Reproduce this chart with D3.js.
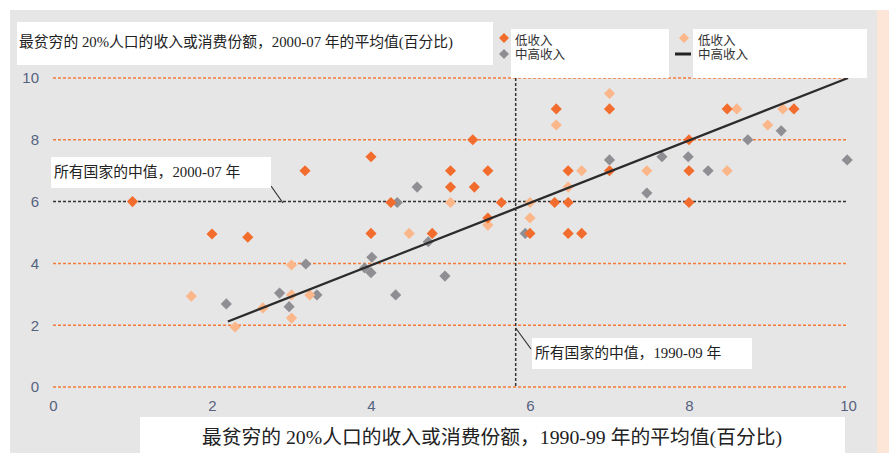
<!DOCTYPE html>
<html><head><meta charset="utf-8">
<script src="https://cdn.jsdelivr.net/npm/d3@7"></script>
<style>body{margin:0;background:#fff}svg{display:block}</style>
</head><body>
<svg id="c" width="889" height="453"></svg>
<script>
// Data: x = 1990-99 average share (%), y = 2000-07 average share (%)
const darkX = [1.0,2.0,2.45,3.17,4.0,4.0,4.25,4.77,5.0,5.0,5.28,5.3,5.47,5.47,5.64,6.0,6.33,6.31,6.48,6.48,6.48,6.65,7.0,7.0,8.0,8.0,8.0,8.48,9.32];
const darkY = [6.0,4.95,4.85,7.0,7.45,4.97,5.97,4.97,7.0,6.47,8.0,6.47,7.0,5.47,5.97,4.97,9.0,5.97,7.0,5.97,4.97,4.97,9.0,7.0,8.0,7.0,5.97,9.0,9.0];
const grayX = [2.18,2.85,2.97,3.18,3.32,3.92,4.01,4.0,4.31,4.33,4.58,4.72,4.93,5.94,7.0,7.47,7.66,7.99,8.24,8.74,9.16,9.99];
const grayY = [2.69,3.04,2.6,3.98,2.98,3.85,4.2,3.7,2.98,5.97,6.47,4.7,3.59,4.97,7.35,6.28,7.45,7.45,7.0,8.0,8.29,7.35];
const lightX = [1.74,2.29,2.64,3.0,3.0,3.0,3.23,4.48,5.0,5.47,6.0,6.0,6.33,6.48,6.65,7.0,7.47,8.48,8.6,8.99,9.18];
const lightY = [2.94,1.94,2.56,3.95,2.98,2.23,2.98,4.97,5.97,5.24,5.97,5.47,8.48,6.47,7.0,9.5,7.0,7.0,9.0,8.48,9.0];
const trendX = [2.2,10];
const trendY = [2.12,10];
const medianX = 5.82, medianY = 6;
const xTicks = [0,2,4,6,8,10];
const yTicks = [0,2,4,6,8,10];
const yTitle = "最贫穷的 20%人口的收入或消费份额，2000-07 年的平均值(百分比)";
const xTitle = "最贫穷的 20%人口的收入或消费份额，1990-99 年的平均值(百分比)";
const legendA = ["低收入","中高收入"];
const legendB = ["低收入","中高收入"];
const noteY = "所有国家的中值，2000-07 年";
const noteX = "所有国家的中值，1990-09 年";

const C = {dark:"#f26d2d", light:"#fbb68a", gray:"#8e8e93", grid:"#f47b3a"};
const serif = "'Liberation Serif','Noto Sans CJK SC',serif";
const legendFont = "'Liberation Sans','Noto Sans CJK SC',sans-serif";

const svg = d3.select("#c");
svg.append("rect").attr("x",10).attr("y",10).attr("width",867).attr("height",443).attr("fill","#e6e6e6");
svg.append("rect").attr("x",877).attr("y",10).attr("width",12).attr("height",443).attr("fill","#fde6d8");

const x = d3.scaleLinear().domain([0,10]).range([53,848]);
const y = d3.scaleLinear().domain([0,10]).range([387,78]);

// grid
svg.append("g").selectAll("line").data(yTicks.filter(d=>d!==medianY)).join("line")
  .attr("x1",x(0)).attr("x2",x(10)).attr("y1",d=>y(d)).attr("y2",d=>y(d))
  .attr("stroke",C.grid).attr("stroke-width",1.5).attr("stroke-dasharray","3,2");
svg.append("line").attr("x1",x(0)).attr("x2",x(10)).attr("y1",y(medianY)).attr("y2",y(medianY))
  .attr("stroke","#333").attr("stroke-width",1.5).attr("stroke-dasharray","3,2");
svg.append("line").attr("x1",x(medianX)).attr("x2",x(medianX)).attr("y1",y(10)).attr("y2",y(0)+1)
  .attr("stroke","#333").attr("stroke-width",1.5).attr("stroke-dasharray","3,2");

// axes
const yAxis = d3.axisLeft(y).tickValues(yTicks).tickSize(0).tickPadding(0);
const gy = svg.append("g").attr("transform","translate(39,0)").call(yAxis);
const xAxis = d3.axisBottom(x).tickValues(xTicks).tickSize(0).tickPadding(0);
const gx = svg.append("g").attr("transform","translate(0,400)").call(xAxis);
[gy,gx].forEach(g=>{g.select(".domain").remove();
  g.selectAll("text").attr("fill","#55627e").attr("font-size",15).attr("font-family","'Liberation Sans',Arial,sans-serif");});

// markers
const diamond = d3.symbol().type(d3.symbolSquare).size(62);
function drawSeries(xs,ys,color){
  svg.append("g").selectAll("path").data(xs.map((v,i)=>[v,ys[i]])).join("path")
    .attr("d",diamond).attr("fill",color)
    .attr("transform",d=>`translate(${x(d[0])},${y(d[1])}) rotate(45)`);
}
drawSeries(grayX,grayY,C.gray);
drawSeries(lightX,lightY,C.light);
drawSeries(darkX,darkY,C.dark);

// trend line
svg.append("line").attr("x1",x(trendX[0])).attr("y1",y(trendY[0])).attr("x2",x(trendX[1])).attr("y2",y(trendY[1]))
  .attr("stroke","#2b2b2b").attr("stroke-width",2.2);

// top title box
svg.append("rect").attr("x",17).attr("y",22).attr("width",476).attr("height",43).attr("fill","#fff");
svg.append("text").attr("x",19).attr("y",47).text(yTitle).attr("font-family",serif).attr("font-size",14.8).attr("fill","#222");

// legends
svg.append("rect").attr("x",511).attr("y",29).attr("width",158).attr("height",49).attr("fill","#fff");
svg.append("rect").attr("x",693).attr("y",29).attr("width",174).attr("height",49).attr("fill","#fff");
const lsym = d3.symbol().type(d3.symbolSquare).size(50);
svg.append("path").attr("d",lsym).attr("fill",C.dark).attr("transform","translate(504,38) rotate(45)");
svg.append("path").attr("d",lsym).attr("fill",C.gray).attr("transform","translate(504,54) rotate(45)");
svg.append("path").attr("d",lsym).attr("fill",C.light).attr("transform","translate(684,38) rotate(45)");
svg.append("line").attr("x1",675).attr("x2",691).attr("y1",54).attr("y2",54).attr("stroke","#222").attr("stroke-width",3);
[[515,legendA],[698,legendB]].forEach(([lx,labs])=>{
  labs.forEach((s,i)=>svg.append("text").attr("x",lx).attr("y",44.5+i*14.5).text(s)
    .attr("font-family",legendFont).attr("font-size",12.5).attr("fill","#333"));
});

// annotations
svg.append("line").attr("x1",271).attr("y1",186).attr("x2",283).attr("y2",203).attr("stroke","#333").attr("stroke-width",1.2);
svg.append("rect").attr("x",51).attr("y",157).attr("width",220).attr("height",31).attr("fill","#fff");
svg.append("text").attr("x",54).attr("y",177).text(noteY).attr("font-family",serif).attr("font-size",14.8).attr("fill","#222");
svg.append("line").attr("x1",x(medianX)).attr("y1",328).attr("x2",531).attr("y2",349).attr("stroke","#333").attr("stroke-width",1.2);
svg.append("rect").attr("x",532).attr("y",338).attr("width",220).attr("height",31).attr("fill","#fff");
svg.append("text").attr("x",535).attr("y",358).text(noteX).attr("font-family",serif).attr("font-size",14.8).attr("fill","#222");

// bottom title box
svg.append("rect").attr("x",140).attr("y",417).attr("width",705).attr("height",36).attr("fill","#fff");
svg.append("text").attr("x",492).attr("y",444).attr("text-anchor","middle").text(xTitle)
  .attr("font-family",serif).attr("font-size",19.8).attr("fill","#222");
</script>
</body></html>
